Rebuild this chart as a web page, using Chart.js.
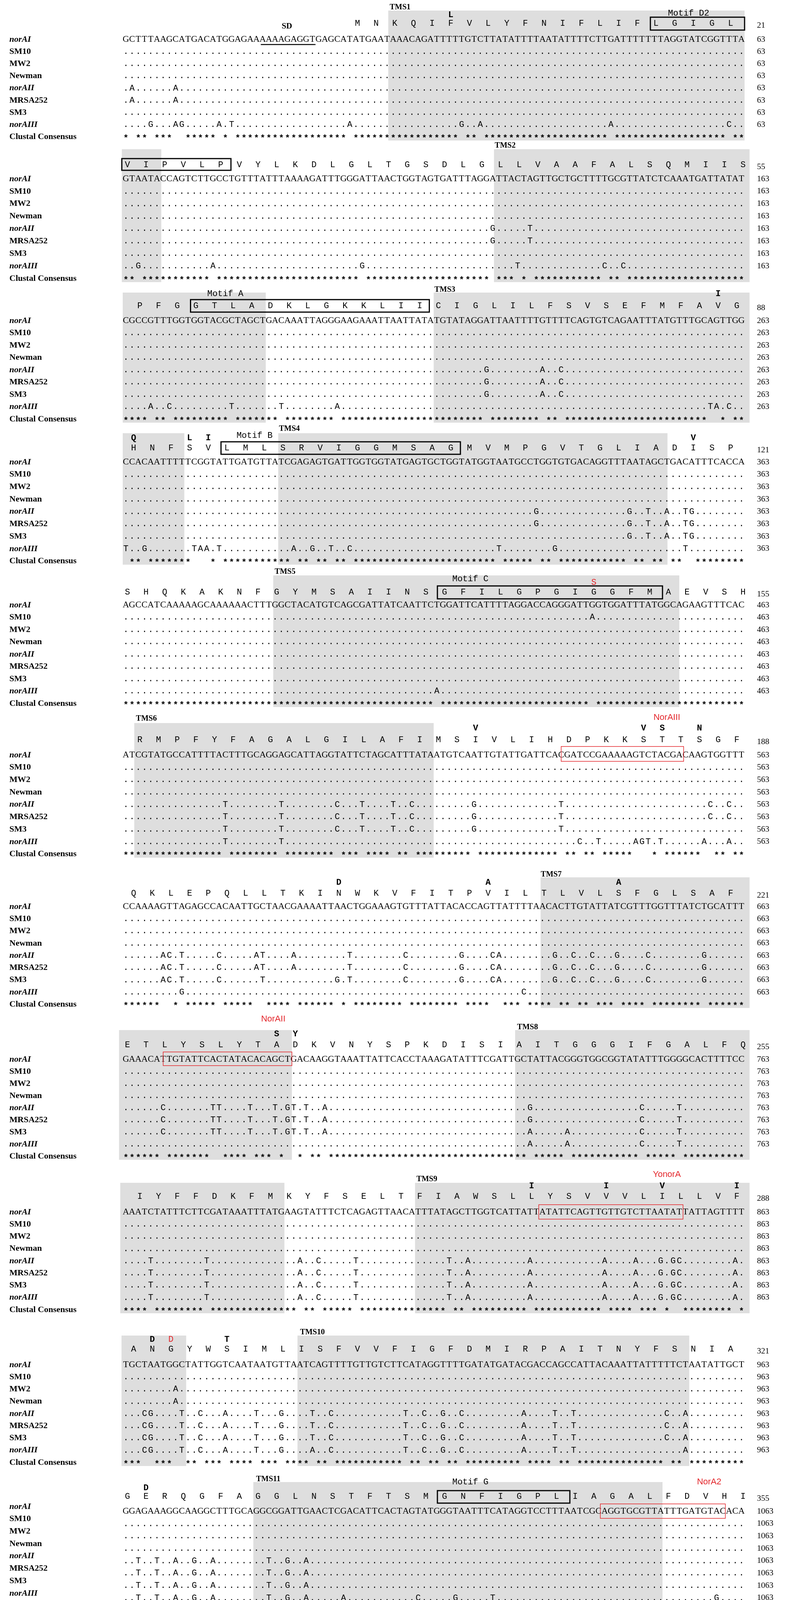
<!DOCTYPE html>
<html>
<head>
<meta charset="utf-8">
<script src="https://cdn.jsdelivr.net/npm/chart.js@4.4.1/dist/chart.umd.min.js"></script>
<style>
  html, body { margin: 0; padding: 0; background: #fff; }
  #wrap { position: relative; width: 2011px; height: 4940px; }
</style>
</head>
<body>
<div id="wrap"><canvas id="alignChart"></canvas></div>
<script>
// ---- data: norA alignment, one entry per 100 nt block ----
const strains = ['norAI', 'SM10', 'MW2', 'Newman', 'norAII', 'MRSA252', 'SM3', 'norAIII', 'Clustal Consensus'];
const italicRows = [0, 4, 7];

// norAI nucleotides (spaces only mark codons, removed before drawing)
const ntNorAI = [
  'GCTTTAAGCATGACATGGAGAAAAAAGAGGTGAGCAT ATG AAT AAA CAG ATT TTT GTC TTA TAT TTT AAT ATT TTC TTG ATT TTT TTA GGT ATC GGT TTA',
  'GTA ATA CCA GTC TTG CCT GTT TAT TTA AAA GAT TTG GGA TTA ACT GGT AGT GAT TTA GGA TTA CTA GTT GCT GCT TTT GCG TTA TCT CAA ATG ATT ATA T',
  'CG CCG TTT GGT GGT ACG CTA GCT GAC AAA TTA GGG AAG AAA TTA ATT ATA TGT ATA GGA TTA ATT TTG TTT TCA GTG TCA GAA TTT ATG TTT GCA GTT GG',
  'C CAC AAT TTT TCG GTA TTG ATG TTA TCG AGA GTG ATT GGT GGT ATG AGT GCT GGT ATG GTA ATG CCT GGT GTG ACA GGT TTA ATA GCT GAC ATT TCA CCA',
  'AGC CAT CAA AAA GCA AAA AAC TTT GGC TAC ATG TCA GCG ATT ATC AAT TCT GGA TTC ATT TTA GGA CCA GGG ATT GGT GGA TTT ATG GCA GAA GTT TCA C',
  'AT CGT ATG CCA TTT TAC TTT GCA GGA GCA TTA GGT ATT CTA GCA TTT ATA ATG TCA ATT GTA TTG ATT CAC GAT CCG AAA AAG TCT ACG ACA AGT GGT TT',
  'C CAA AAG TTA GAG CCA CAA TTG CTA ACG AAA ATT AAC TGG AAA GTG TTT ATT ACA CCA GTT ATT TTA ACA CTT GTA TTA TCG TTT GGT TTA TCT GCA TTT',
  'GAA ACA TTG TAT TCA CTA TAC ACA GCT GAC AAG GTA AAT TAT TCA CCT AAA GAT ATT TCG ATT GCT ATT ACG GGT GGC GGT ATA TTT GGG GCA CTT TTC C',
  'AA ATC TAT TTC TTC GAT AAA TTT ATG AAG TAT TTC TCA GAG TTA ACA TTT ATA GCT TGG TCA TTA TTA TAT TCA GTT GTT GTC TTA ATA TTA TTA GTT TT',
  'T GCT AAT GGC TAT TGG TCA ATA ATG TTA ATC AGT TTT GTT GTC TTC ATA GGT TTT GAT ATG ATA CGA CCA GCC ATT ACA AAT TAT TTT TCT AAT ATT GCT',
  'GGA GAA AGG CAA GGC TTT GCA GGC GGA TTG AAC TCG ACA TTC ACT AGT ATG GGT AAT TTC ATA GGT CCT TTA ATC GCA GGT GCG TTA TTT GAT GTA CAC A',
  'TT GAA GCA CCA ATT TAT ATG GCT ATA GGT GTT TCA TTA GCA GGT GTT GTT ATT GTT TTA ATT GAA AAG CAA CAT AGA GCA AAA TTG AAA GAA CAA AAT AT',
  'G TAG'
];

// differences from norAI, "column+base" per block
const varSM10 = ['', '', '', '', '75A', '', '', '', '', '', '', '', ''];
const varMW2 = ['', '', '', '', '', '', '', '', '', '8A', '', '', ''];
const varNewman = ['', '', '', '', '', '', '', '', '', '8A', '', '', ''];
const varNorAII = [
  '1A 8A', '59G 65T', '58G 67A 70C', '66G 81G 84T 87A 90T 91G', '',
  '16T 25T 34C 38T 43T 46C 56G 70T 94C 97C',
  '6A 7C 9T 15C 21A 22T 27A 36T 45C 54G 59C 60A 69G 72C 75C 79G 84C 93G',
  '6C 14T 15T 20T 24T 26G 27T 29T 32A 65G 83C 89T',
  '4T 13T 28A 31C 37T 52T 55A 65A 77A 82A 86G 88G 89C 98A',
  '3C 4G 9T 12C 16A 21T 25G 30T 33C 45T 48C 51G 54C 64A 69T 72T 87C 90A',
  '2T 5T 8A 11G 14A 23T 26G 29A',
  '31G 79T 82G 85A 89C 95G 98T', '3A'
];
const varMRSA252 = varNorAII.slice();
const varSM3 = [
  '', '', '58G 67A 70C', '81G 84T 87A 90T 91G', '',
  '16T 25T 34C 38T 43T 46C 56G 70T',
  '6A 7C 9T 15C 22T 34G 36T 45C 54G 59C 60A 69G 72C 75C 79G 84C 93G',
  '6C 14T 15T 20T 24T 26G 27T 29T 32A 65A 71A 83C 89T',
  '4T 13T 28A 31C 37T 52T 55A 65A 77A 82A 86G 88G 89C 98A',
  '3C 4G 9T 12C 16A 21T 25G 30T 33C 45T 48C 51G 54C 64A 69T 72T 87C 90A',
  '2T 5T 8A 11G 14A 23T 26G 29A',
  '31G 79T 82G 85A 89C 95G 98T', '3A'
];
const varNorAIII = [
  '4G 8A 9G 15A 17T 36A 54G 57A 78A 97C',
  '2G 14A 38G 63T 77C 80C',
  '4A 7C 17T 25T 34A 94T 95A 97C',
  '0T 3G 11T 12A 13A 15T 27A 30G 33T 36C 60T 69G 90T',
  '50A',
  '16T 25T 73C 76T 82A 83G 84T 86T 93A 97A',
  '9G 64C',
  '65A 71A 83C 89T',
  '4T 13T 28A 31C 37T 52T 55A 65A 77A 82A 86G 88G 89C 98A',
  '3C 4G 9T 12C 16A 21T 25G 30A 33C 45T 48C 51G 54C 64A 69T 72T 90A',
  '2T 5T 8A 11G 14A 23T 26G 29A 35A 47C 53G 59T 95G',
  '7C 31G 40T 49C 79T 82G 85A 89C 95G 98T', '3A'
];
const variantRows = [varSM10, varMW2, varNewman, varNorAII, varMRSA252, varSM3, varNorAIII];

// protein
const aaSeq = [
  'MNKQIFVLYFNIFLIFLGIGL', 'VIPVLPVYLKDLGLTGSDLGLLVAAFALSQMIIS', 'PFGGTLADKLGKKLIICIGLILFSVSEFMFAVG',
  'HNFSVLMLSRVIGGMSAGMVMPGVTGLIADISP', 'SHQKAKNFGYMSAIINSGFILGPGIGGFMAEVSH', 'RMPFYFAGALGILAFIMSIVLIHDPKKSTTSGF',
  'QKLEPQLLTKINWKVFITPVILTLVLSFGLSAF', 'ETLYSLYTADKVNYSPKDISIAITGGGIFGALFQ', 'IYFFDKFMKYFSELTFIAWSLLYSVVVLILLVF',
  'ANGYWSIMLISFVVFIGFDMIRPAITNYFSNIA', 'GERQGFAGGLNSTFTSMGNFIGPLIAGALFDVHI', 'EAPIYMAIGVSLAGVVIVLIEKQHRAKLKEQNM', '*'
];
const aaStart = [37, 0, 2, 1, 0, 2, 1, 0, 2, 1, 0, 2, 1];
// substitutions shown above the protein, "residue index+aa"
const aaSubs = ['5L', '', '31I', '0Q 3L 4I 30V', '', '18V 27V 28S 30N', '11D 19A 26A', '8S 9Y',
  '21I 25I 28V 32I', '1D 5T', '1D', '29Q 31D 32L', ''];
const aaSubsRed = ['', '', '', '', '25S', '', '', '', '', '2D', '', '', ''];
const aaEnd = [21, 55, 88, 121, 155, 188, 221, 255, 288, 321, 355, 388, 388];
const ntEnd = [63, 163, 263, 363, 463, 563, 663, 763, 863, 963, 1063, 1163, 1167];

// ---- layout (x in alignment columns, y in page pixels) ----
const X_MIN = -20.24, X_MAX = 106.16;
const LABEL_X = -18.73, NUM_X = 101.5, NUM_X_LAST = 6.35;
const blockY = [
  {aa: 60, sub: 38, data: 101, label: 101, rowH: 31.2, shade: 27},
  {aa: 422, sub: 400, data: 458, label: 458, rowH: 31.9, shade: 382},
  {aa: 783, sub: 752, data: 821, label: 821, rowH: 31.5, shade: 749},
  {aa: 1147, sub: 1121, data: 1183, label: 1183, rowH: 31.7, shade: 1109},
  {aa: 1516, sub: 1491, data: 1549, label: 1549, rowH: 31.5, shade: 1473},
  {aa: 1894, sub: 1864, data: 1933, label: 1933, rowH: 31.7, shade: 1851},
  {aa: 2287, sub: 2259, data: 2321, label: 2321, rowH: 31.3, shade: 2246},
  {aa: 2675, sub: 2647, data: 2712, label: 2712, rowH: 31.0, shade: 2637},
  {aa: 3063, sub: 3036, data: 3103, label: 3103, rowH: 31.25, shade: 3028},
  {aa: 3454, sub: 3429, data: 3494, label: 3494, rowH: 31.25, shade: 3419},
  {aa: 3831, sub: 3809, data: 3869, label: 3857, rowH: 31.7, shade: 3794},
  {aa: 4226, sub: 4198, data: 4262, label: 4262, rowH: 31.9, shade: 4188},
  {aa: 4627, sub: 4605, data: 4670, label: 4652, rowH: 30.8, shade: 0}
];
const shadeCols = [
  [[42.2, 99.5]], [[-0.65, 5.7], [59.2, 100.3]], [[-0.5, 22.5], [49.5, 100.3]], [[-0.5, 9.4], [24.5, 87.1]],
  [[23.7, 89.0]], [[1.35, 49.5]], [[66.7, 100.3]], [[-1.1, 26.7], [62.6, 100.3]],
  [[-0.9, 25.5], [46.5, 100.3]], [[-0.7, 9.7], [27.6, 90.6]], [[20.5, 86.3]], [[7.2, 70.2]], []
];
const tmsLabels = [['TMS1', 44.1, 19], ['TMS2', 61, 373], ['TMS3', 51.3, 742], ['TMS4', 26.3, 1098],
  ['TMS5', 25.6, 1464], ['TMS6', 3.3, 1840], ['TMS7', 68.4, 2239], ['TMS8', 64.6, 2630],
  ['TMS9', 48.4, 3019], ['TMS10', 30, 3411], ['TMS11', 22.9, 3787], ['TMS12', 9.6, 4177]];
// [label, box left, box right, label x, label y, box top, box bottom]
const motifs = [['Motif D2', 84.35, 99.5, 90.5, 34, 44, 77], ['', -0.65, 16.9, 0, 0, 406, 436],
  ['Motif A', 10.4, 48.8, 16, 752, 767, 799], ['Motif B', 15.3, 53.8, 20.7, 1115, 1131, 1163],
  ['Motif C', 50.1, 86.3, 55.4, 1482, 1500, 1533], ['Motif G', 50.1, 71.4, 55.4, 3794, 3816, 3848]];
const primers = [['NorAIII', 87, 1837, 70, 89.7, 1911, 1949], ['NorAII', 23.7, 2609, 6, 26.7, 2693, 2728],
  ['YonorA', 87, 3007, 66.4, 89.6, 3084, 3121], ['NorA2', 93.8, 3794, 76.3, 96.4, 3850, 3887]];

const RED = '#e3262b';

function parseMarks(s) {
  return s.split(' ').filter(Boolean).map(m => ({i: parseInt(m, 10), ch: m.replace(/^\d+/, '')}));
}

const pts = {labels: [], labelsI: [], seq: [], mono: [], stars: [], aa: [], subs: [], subsRed: [],
  nums: [], tms: [], motif: [], red: [], sd: []};

ntNorAI.forEach((raw, b) => {
  const nt = raw.replace(/ /g, '');
  const L = blockY[b];
  const rows = [nt.split('')];
  variantRows.forEach(list => {
    const row = new Array(nt.length).fill('.');
    parseMarks(list[b]).forEach(m => { row[m.i] = m.ch; });
    rows.push(row);
  });
  strains.forEach((s, r) => {
    (italicRows.includes(r) ? pts.labelsI : pts.labels).push({x: LABEL_X, y: L.label + r * L.rowH, t: s});
  });
  rows.forEach((row, r) => {
    row.forEach((ch, c) => (r === 0 ? pts.seq : pts.mono).push({x: c, y: L.data + r * L.rowH, t: ch}));
  });
  for (let c = 0; c < nt.length; c++) {
    if (rows.slice(1).every(row => row[c] === '.')) pts.stars.push({x: c, y: L.data + 8 * L.rowH, t: '*'});
  }
  aaSeq[b].split('').forEach((ch, i) => pts.aa.push({x: aaStart[b] + 3 * i + 0.25, y: L.aa, t: ch}));
  parseMarks(aaSubs[b]).forEach(m => pts.subs.push({x: aaStart[b] + 3 * m.i + 0.25, y: L.sub, t: m.ch}));
  parseMarks(aaSubsRed[b]).forEach(m => pts.subsRed.push({x: aaStart[b] + 3 * m.i + 0.25, y: L.sub, t: m.ch}));
  const nx = b === ntNorAI.length - 1 ? NUM_X_LAST : NUM_X;
  pts.nums.push({x: nx, y: L.aa + 5, t: String(aaEnd[b])});
  for (let r = 0; r < 8; r++) pts.nums.push({x: nx, y: L.data + r * L.rowH, t: String(ntEnd[b])});
});
tmsLabels.forEach(([t, x, y]) => pts.tms.push({x, y, t}));
motifs.forEach(([t, , , x, y]) => { if (t) pts.motif.push({x, y, t}); });
primers.forEach(([t, x, y]) => pts.red.push({x, y, t}));
pts.sd.push({x: 25.9, y: 68, t: 'SD'});

function textSet(data, font, color, align, dy) {
  return {data, txtFont: font, txtColor: color || '#000', txtAlign: align || 'center', txtDy: dy || 0,
    pointRadius: 0, showLine: false, clip: false};
}

const alignmentPainter = {
  id: 'alignmentPainter',
  beforeDatasetsDraw(chart) {
    const {ctx, scales: {x, y}} = chart;
    ctx.save();
    ctx.fillStyle = '#dedede';
    shadeCols.forEach((ranges, b) => {
      const L = blockY[b];
      const top = y.getPixelForValue(L.shade);
      const bottom = y.getPixelForValue(L.data + 8 * L.rowH + 9);
      ranges.forEach(([a, z]) => {
        const left = x.getPixelForValue(a);
        ctx.fillRect(left, top, x.getPixelForValue(z) - left, bottom - top);
      });
    });
    ctx.restore();
  },
  afterDatasetsDraw(chart) {
    const {ctx, scales: {x, y}} = chart;
    ctx.save();
    ctx.textBaseline = 'middle';
    chart.data.datasets.forEach((ds, i) => {
      const meta = chart.getDatasetMeta(i);
      ctx.font = ds.txtFont;
      ctx.fillStyle = ds.txtColor;
      ctx.textAlign = ds.txtAlign;
      meta.data.forEach((el, j) => ctx.fillText(ds.data[j].t, el.x, el.y + ds.txtDy));
    });
    ctx.strokeStyle = '#000';
    ctx.lineWidth = 3;
    motifs.forEach(([, a, z, , , t, b]) => {
      const left = x.getPixelForValue(a), top = y.getPixelForValue(t);
      ctx.strokeRect(left, top, x.getPixelForValue(z) - left, y.getPixelForValue(b) - top);
    });
    ctx.strokeStyle = RED;
    ctx.lineWidth = 1.5;
    primers.forEach(([, , , a, z, t, b]) => {
      const left = x.getPixelForValue(a), top = y.getPixelForValue(t);
      ctx.strokeRect(left, top, x.getPixelForValue(z) - left, y.getPixelForValue(b) - top);
    });
    // Shine-Dalgarno underline
    ctx.strokeStyle = '#000';
    ctx.lineWidth = 2.5;
    ctx.beginPath();
    ctx.moveTo(x.getPixelForValue(21.7), y.getPixelForValue(114));
    ctx.lineTo(x.getPixelForValue(30.5), y.getPixelForValue(114));
    ctx.stroke();
    ctx.restore();
  }
};

const ctx = document.getElementById('alignChart').getContext('2d');
const alignChart = new Chart(ctx, {
  type: 'scatter',
  data: {
    datasets: [
      textSet(pts.labels, 'bold 22px "Liberation Serif"', '#000', 'left'),
      textSet(pts.labelsI, 'italic bold 22px "Liberation Serif"', '#000', 'left'),
      textSet(pts.seq, '23px "Liberation Serif"'),
      textSet(pts.mono, '22px "Liberation Mono"'),
      textSet(pts.stars, 'bold 22px "Liberation Mono"', '#000', 'center', 4),
      textSet(pts.aa, '22px "Liberation Mono"'),
      textSet(pts.subs, 'bold 22px "Liberation Mono"'),
      textSet(pts.subsRed, '22px "Liberation Mono"', RED),
      textSet(pts.nums, '21px "Liberation Serif"', '#000', 'left'),
      textSet(pts.tms, 'bold 20px "Liberation Serif"'),
      textSet(pts.motif, '22px "Liberation Mono"'),
      textSet(pts.red, '22px "Liberation Sans"', RED),
      textSet(pts.sd, 'bold 21px "Liberation Serif"')
    ]
  },
  options: {
    responsive: true,
    maintainAspectRatio: false,
    animation: false,
    events: [],
    layout: { padding: 0 },
    plugins: {
      legend: { display: false },
      tooltip: { enabled: false }
    },
    scales: {
      x: { type: 'linear', min: X_MIN, max: X_MAX, display: false },
      y: { type: 'linear', min: 0, max: 4940, reverse: true, display: false }
    }
  },
  plugins: [alignmentPainter]
});
</script>
</body>
</html>
